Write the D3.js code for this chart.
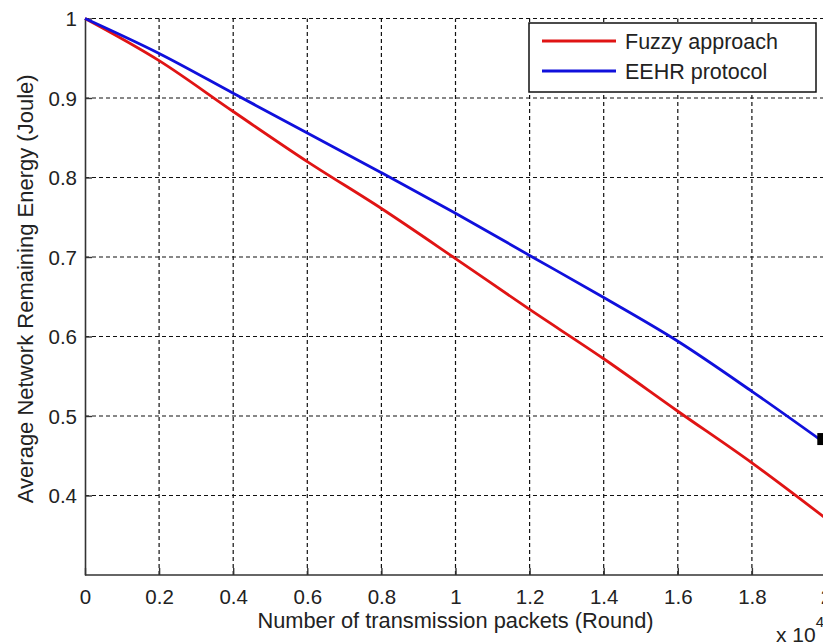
<!DOCTYPE html>
<html>
<head>
<meta charset="utf-8">
<script src="https://cdn.jsdelivr.net/npm/d3@7"></script>
<style>
  body { margin: 0; background: #fff; }
  text { font-family: Arial, "Liberation Sans", sans-serif; fill: #222; }
</style>
</head>
<body>
<div class="chart"></div>
<script>
// rounds are in units of 10^4
var rounds = [0, 0.2, 0.4, 0.6, 0.8, 1.0, 1.2, 1.4, 1.6, 1.8, 2.0];
var fuzzyEnergy = [1, 0.947, 0.883, 0.820, 0.761, 0.698, 0.634, 0.572, 0.506, 0.441, 0.371];
var eehrEnergy = [1, 0.956, 0.906, 0.856, 0.806, 0.755, 0.702, 0.649, 0.594, 0.531, 0.465];
var seriesNames = ["Fuzzy approach", "EEHR protocol"];
var seriesColors = ["#e01414", "#1010dc"];
var xTicks = [0, 0.2, 0.4, 0.6, 0.8, 1, 1.2, 1.4, 1.6, 1.8, 2];
var yTicks = [0.4, 0.5, 0.6, 0.7, 0.8, 0.9, 1];
var cursorPoint = [1.99, 0.471];

var width = 823, height = 644;

var svg = d3.select(".chart").append("svg")
    .attr("width", width)
    .attr("height", height);

var x = d3.scaleLinear().domain([0, 2]).range([85, 826]);
var y = d3.scaleLinear().domain([0.3, 1]).range([575, 18.5]);
var fmt = d3.format("~g");

// grid
svg.append("g").selectAll("line")
    .data(xTicks.slice(1)).enter()
    .append("line")
    .attr("x1", function(d) { return x(d); })
    .attr("x2", function(d) { return x(d); })
    .attr("y1", y(0.3))
    .attr("y2", y(1))
    .attr("stroke", "#111")
    .attr("stroke-width", 1.2)
    .attr("stroke-dasharray", "4,3");

svg.append("g").selectAll("line")
    .data(yTicks).enter()
    .append("line")
    .attr("y1", function(d) { return y(d); })
    .attr("y2", function(d) { return y(d); })
    .attr("x1", x(0))
    .attr("x2", width)
    .attr("stroke", "#111")
    .attr("stroke-width", 1.2)
    .attr("stroke-dasharray", "4,3");

// axes
var xAxis = d3.axisBottom(x).tickValues(xTicks).tickFormat(fmt).tickSizeInner(-7).tickSizeOuter(0).tickPadding(14);
var yAxis = d3.axisLeft(y).tickValues(yTicks).tickFormat(fmt).tickSizeInner(-7).tickSizeOuter(0).tickPadding(8);

var gx = svg.append("g").attr("transform", "translate(0," + y(0.3) + ")").call(xAxis);
var gy = svg.append("g").attr("transform", "translate(" + x(0) + ",0)").call(yAxis);

[gx, gy].forEach(function(g) {
  g.select(".domain").attr("stroke", "#333").attr("stroke-width", 1.6);
  g.selectAll(".tick line").attr("stroke", "#333").attr("stroke-width", 1.4);
  g.selectAll(".tick text").style("font-size", "20.5px").attr("fill", "#222");
});
gx.select(".domain").attr("d", "M" + x(0) + ",0H" + width);
gy.selectAll(".tick text").attr("dy", "0.35em");

// lines
var series = [fuzzyEnergy, eehrEnergy];
var line = d3.line()
    .curve(d3.curveMonotoneX)
    .x(function(d, i) { return x(rounds[i]); })
    .y(function(d) { return y(d); });

svg.append("g").selectAll("path")
    .data(series).enter()
    .append("path")
    .attr("d", line)
    .attr("fill", "none")
    .attr("stroke", function(d, i) { return seriesColors[i]; })
    .attr("stroke-width", 2.8);

// small data cursor mark at right edge
svg.append("rect")
    .attr("x", x(cursorPoint[0]) - 5)
    .attr("y", y(cursorPoint[1]) - 6)
    .attr("width", 8)
    .attr("height", 12)
    .attr("fill", "#000");

// legend
var legend = svg.append("g");
legend.append("rect")
    .attr("x", 529).attr("y", 23)
    .attr("width", 287).attr("height", 69)
    .attr("fill", "#fff")
    .attr("stroke", "#111")
    .attr("stroke-width", 1.5);

var item = legend.selectAll(".item")
    .data(seriesNames).enter()
    .append("g")
    .attr("class", "item")
    .attr("transform", function(d, i) { return "translate(0," + (41 + i * 30) + ")"; });

item.append("line")
    .attr("x1", 542).attr("x2", 616)
    .attr("stroke", function(d, i) { return seriesColors[i]; })
    .attr("stroke-width", 2.8);

item.append("text")
    .attr("x", 625)
    .attr("dy", "0.35em")
    .style("font-size", "21.5px")
    .text(function(d) { return d; });

// axis titles
svg.append("text")
    .attr("x", x(1))
    .attr("y", 628)
    .attr("text-anchor", "middle")
    .style("font-size", "21.8px")
    .text("Number of transmission packets (Round)");

svg.append("text")
    .attr("transform", "translate(33," + y(0.66) + ") rotate(-90)")
    .attr("text-anchor", "middle")
    .style("font-size", "22px")
    .text("Average Network Remaining Energy (Joule)");

var expo = svg.append("text")
    .attr("x", 776)
    .attr("y", 642)
    .style("font-size", "21px");
expo.append("tspan").text("x 10");
expo.append("tspan").attr("dy", -15).style("font-size", "15px").text("4");
</script>
</body>
</html>
